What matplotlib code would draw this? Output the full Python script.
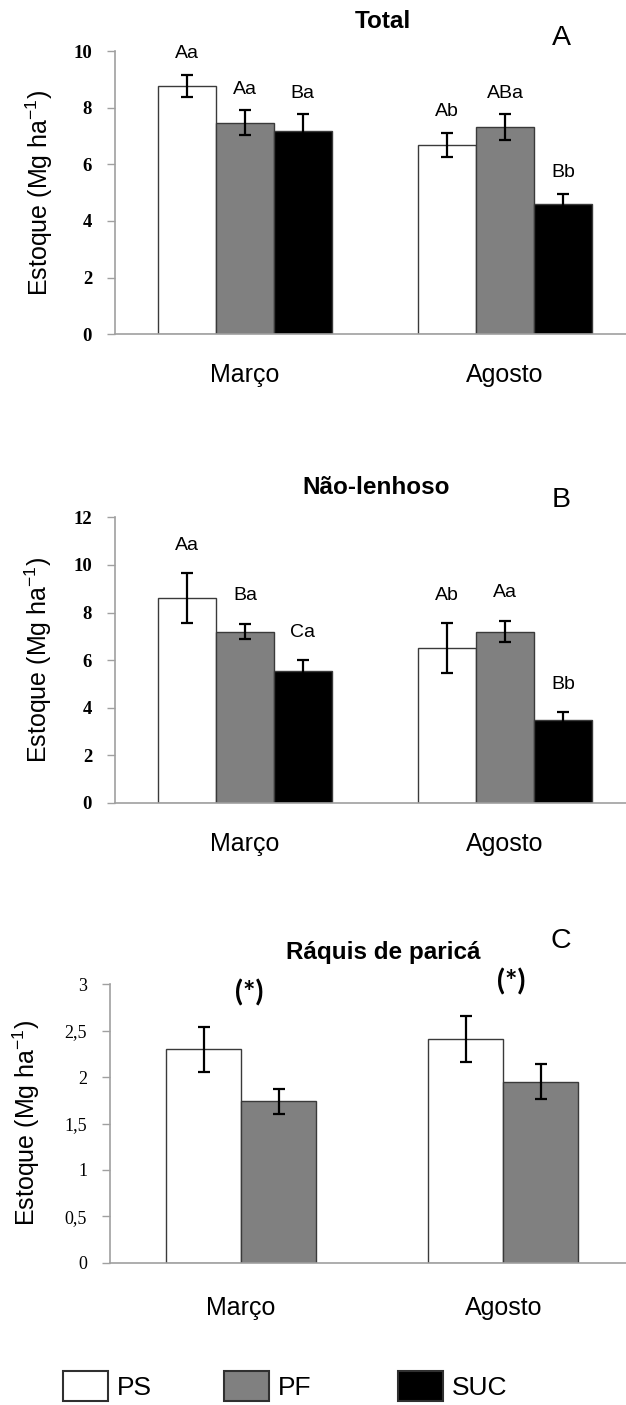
import matplotlib
matplotlib.use("Agg")
import matplotlib.pyplot as plt
from matplotlib.patches import Patch
import numpy as np

# ---------------- data ----------------
months = ["Março", "Agosto"]
series = ["PS", "PF", "SUC"]
colors = ["#ffffff", "#808080", "#000000"]

total_ps = [8.77, 6.69]
total_pf = [7.46, 7.31]
total_suc = [7.18, 4.60]
total_ps_err = [0.40, 0.43]
total_pf_err = [0.44, 0.45]
total_suc_err = [0.58, 0.36]
total_letters_ps = ["Aa", "Ab"]
total_letters_pf = ["Aa", "ABa"]
total_letters_suc = ["Ba", "Bb"]

nl_ps = [8.60, 6.50]
nl_pf = [7.20, 7.20]
nl_suc = [5.55, 3.50]
nl_ps_err = [1.05, 1.05]
nl_pf_err = [0.32, 0.45]
nl_suc_err = [0.45, 0.31]
nl_letters_ps = ["Aa", "Ab"]
nl_letters_pf = ["Ba", "Aa"]
nl_letters_suc = ["Ca", "Bb"]

rq_ps = [2.30, 2.41]
rq_pf = [1.74, 1.95]
rq_ps_err = [0.245, 0.245]
rq_pf_err = [0.135, 0.19]
rq_marks = ["(*)", "(*)"]

yticks_A = [0, 2, 4, 6, 8, 10]
yticks_B = [0, 2, 4, 6, 8, 10, 12]
yticks_C = [0, 0.5, 1, 1.5, 2, 2.5, 3]
yticklabels_C = ["0", "0,5", "1", "1,5", "2", "2,5", "3"]

titles = ["Total", "Não-lenhoso", "Ráquis de paricá"]
panel_letters = ["A", "B", "C"]
ylabel = r"Estoque (Mg ha$^{\mathregular{-1}}$)"

# ---------------- style ----------------
plt.rcParams["font.family"] = ["Liberation Sans", "DejaVu Sans"]
plt.rcParams["mathtext.fontset"] = "custom"
plt.rcParams["mathtext.rm"] = "Liberation Sans"
plt.rcParams["mathtext.it"] = "Liberation Sans"

W, H = 626, 1405
fig = plt.figure(figsize=(W / 100, H / 100), dpi=100)

def rect(left, right, top, bottom):
    return [left / W, 1 - bottom / H, (right - left) / W, (bottom - top) / H]

spine_color = "#a0a0a0"
edge_color = "#3a3a3a"

def style_axis(ax, ymax, yticks, ylabels=None, bold=True):
    ax.set_xlim(-0.5, 1.5)
    ax.set_ylim(0, ymax)
    for s in ["top", "right"]:
        ax.spines[s].set_visible(False)
    for s in ["left", "bottom"]:
        ax.spines[s].set_color(spine_color)
        ax.spines[s].set_linewidth(1.2)
    ax.set_yticks(yticks)
    if ylabels is not None:
        ax.set_yticklabels(ylabels)
    ax.tick_params(axis="y", length=5.5, width=1.0, color=spine_color, pad=11)
    for lab in ax.get_yticklabels():
        lab.set_fontfamily("Liberation Serif")
        lab.set_fontsize(13.5 if bold else 13)
        lab.set_fontweight("bold" if bold else "normal")
    ax.set_xticks([0, 1])
    ax.set_xticklabels(months, fontsize=18)
    ax.tick_params(axis="x", length=0, pad=21)

def three_bar_panel(ax, vals, errs, letters, ymax, yticks, offset_px):
    x = np.arange(len(months))
    w = 0.2225
    for i, (v, e, l) in enumerate(zip(vals, errs, letters)):
        xs = x + (i - 1) * w
        ax.bar(xs, v, w, color=colors[i], edgecolor=edge_color, linewidth=1.0, zorder=2)
        ax.errorbar(xs, v, yerr=e, fmt="none", ecolor="black", elinewidth=1.6,
                    capsize=4.3, capthick=1.6, zorder=3)
        for xi, vi, ei, li in zip(xs, v, e, l):
            ax.annotate(li, (xi, vi + ei), xytext=(0, offset_px), textcoords="offset pixels",
                        ha="center", va="center", fontsize=14)
    style_axis(ax, ymax, yticks)

# Panel A
axA = fig.add_axes(rect(115, 635, 51, 334.3))
three_bar_panel(axA, [total_ps, total_pf, total_suc],
                [total_ps_err, total_pf_err, total_suc_err],
                [total_letters_ps, total_letters_pf, total_letters_suc],
                10, yticks_A, 21)

# Panel B
axB = fig.add_axes(rect(115, 635, 517.3, 803))
three_bar_panel(axB, [nl_ps, nl_pf, nl_suc],
                [nl_ps_err, nl_pf_err, nl_suc_err],
                [nl_letters_ps, nl_letters_pf, nl_letters_suc],
                12, yticks_B, 28)

# Panel C
axC = fig.add_axes(rect(110, 634.5, 984.3, 1262.7))
xc = np.arange(len(months))
wc = 0.286
for i, (v, e) in enumerate([(rq_ps, rq_ps_err), (rq_pf, rq_pf_err)]):
    xs = xc + (i - 0.5) * wc
    axC.bar(xs, v, wc, color=colors[i], edgecolor=edge_color, linewidth=1.0, zorder=2)
    axC.errorbar(xs, v, yerr=e, fmt="none", ecolor="black", elinewidth=1.6,
                 capsize=4.3, capthick=1.6, zorder=3)
tops = np.maximum(np.array(rq_ps) + np.array(rq_ps_err), np.array(rq_pf) + np.array(rq_pf_err))
for xi, t, m in zip(xc, tops, rq_marks):
    axC.annotate(m, (xi, t), xytext=(8, 34), textcoords="offset pixels",
                 ha="center", va="center", fontsize=21, fontweight="bold",
                 family=["Lato", "DejaVu Sans"])
style_axis(axC, 3, yticks_C, yticklabels_C, bold=False)
axC.tick_params(axis="x", pad=24)

# titles, panel letters, y labels
for (tx, ty), t in zip([(383, 21), (376, 488), (383, 952)], titles):
    fig.text(tx / W, 1 - ty / H, t, ha="center", va="center", fontsize=17.5, fontweight="bold")
for (lx, ly), l in zip([(561, 38), (561, 500), (561, 941)], panel_letters):
    fig.text(lx / W, 1 - ly / H, l, ha="center", va="center", fontsize=20.5)
for (yx, yy) in [(39, 192.7), (38.5, 660), (26, 1123)]:
    fig.text(yx / W, 1 - yy / H, ylabel, rotation=90, ha="center", va="center", fontsize=18)

# legend: three single-entry legends
for (bx, lab, col) in [(62.7, "PS", colors[0]), (224, "PF", colors[1]), (397.7, "SUC", colors[2])]:
    h = Patch(facecolor=col, edgecolor="#303030", linewidth=1.5)
    fig.legend([h], [lab], loc="center left", bbox_to_anchor=(bx / W, 1 - 1386 / H),
               frameon=False, borderpad=0, borderaxespad=0, fontsize=19,
               handlelength=1.7, handleheight=1.4, handletextpad=0.35)

fig.savefig("out.png", dpi=100)
